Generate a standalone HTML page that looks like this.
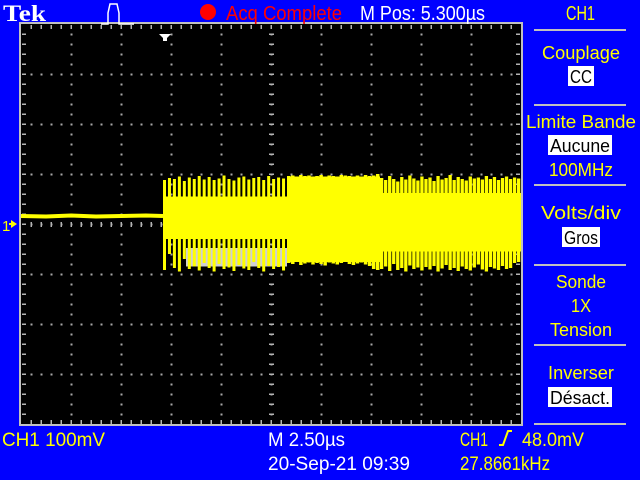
<!DOCTYPE html>
<html><head><meta charset="utf-8"><style>
html,body{margin:0;padding:0;background:#0000ff;}
svg{display:block;font-family:"Liberation Sans",sans-serif;}
</style></head><body>
<svg id="scope" width="640" height="480" viewBox="0 0 640 480" xmlns="http://www.w3.org/2000/svg">
<rect x="0" y="0" width="640" height="480" fill="#0000ff"/>
<rect x="21" y="24" width="500" height="400" fill="#000"/>
<g id="grid"></g>
<g id="trace"></g>
<rect x="20" y="23" width="502" height="402" fill="none" stroke="#c0c0c0" stroke-width="2"/>

<!-- header -->
<text x="3" y="21" font-family="Liberation Serif,serif" font-weight="bold" font-size="23" fill="#fff" textLength="43" lengthAdjust="spacingAndGlyphs">Tek</text>
<polyline points="101,24 108,24 108,13 110,4 117,4 119,13 119,24 134,24" fill="none" stroke="#fff" stroke-width="1.5"/>
<circle cx="208" cy="12" r="8" fill="#ff0000"/>
<text x="226" y="20" font-size="20" fill="#ff0000" textLength="116" lengthAdjust="spacingAndGlyphs">Acq Complete</text>
<text x="360" y="20" font-size="20" fill="#fff" textLength="125" lengthAdjust="spacingAndGlyphs">M Pos: 5.300µs</text>
<text x="566" y="20" font-size="20" fill="#ffff00" textLength="29" lengthAdjust="spacingAndGlyphs">CH1</text>
<path d="M159,34 h12 l-4,4 v3 h-4 v-3 z" fill="#fff"/>

<!-- channel marker -->
<text x="2" y="231" font-size="15" fill="#ffff00">1</text>
<path d="M11,220 l6,4 l-6,4 z M9,223 h4 v2 h-4 z" fill="#ffff00"/>
<path d="M516,196 l-5,5 l5,5 M512,201 h8" fill="none" stroke="#ffff00" stroke-width="1.5"/>

<!-- right menu -->
<g fill="#ffff00" font-size="18" text-anchor="middle">
<line x1="534" y1="30" x2="626" y2="30" stroke="#c0c0c0" stroke-width="2"/>
<text x="581" y="59" textLength="78" lengthAdjust="spacingAndGlyphs">Couplage</text>
<rect x="568" y="66" width="26" height="20" fill="#fff"/>
<text x="581" y="83" fill="#000" textLength="22" lengthAdjust="spacingAndGlyphs">CC</text>
<line x1="534" y1="105" x2="626" y2="105" stroke="#c0c0c0" stroke-width="2"/>
<text x="581" y="128" textLength="110" lengthAdjust="spacingAndGlyphs">Limite Bande</text>
<rect x="548" y="135" width="64" height="20" fill="#fff"/>
<text x="580" y="152" fill="#000" textLength="60" lengthAdjust="spacingAndGlyphs">Aucune</text>
<text x="581" y="176" textLength="64" lengthAdjust="spacingAndGlyphs">100MHz</text>
<line x1="534" y1="185" x2="626" y2="185" stroke="#c0c0c0" stroke-width="2"/>
<text x="581" y="219" textLength="80" lengthAdjust="spacingAndGlyphs">Volts/div</text>
<rect x="562" y="227" width="38" height="20" fill="#fff"/>
<text x="581" y="244" fill="#000" textLength="34" lengthAdjust="spacingAndGlyphs">Gros</text>
<line x1="534" y1="265" x2="626" y2="265" stroke="#c0c0c0" stroke-width="2"/>
<text x="581" y="288" textLength="50" lengthAdjust="spacingAndGlyphs">Sonde</text>
<text x="581" y="312" textLength="20" lengthAdjust="spacingAndGlyphs">1X</text>
<text x="581" y="336" textLength="62" lengthAdjust="spacingAndGlyphs">Tension</text>
<line x1="534" y1="345" x2="626" y2="345" stroke="#c0c0c0" stroke-width="2"/>
<text x="581" y="379" textLength="66" lengthAdjust="spacingAndGlyphs">Inverser</text>
<rect x="548" y="387" width="64" height="20" fill="#fff"/>
<text x="580" y="404" fill="#000" textLength="60" lengthAdjust="spacingAndGlyphs">Désact.</text>
<line x1="534" y1="424" x2="626" y2="424" stroke="#c0c0c0" stroke-width="2"/>
</g>

<!-- bottom status -->
<text x="2" y="446" font-size="19" fill="#ffff00" textLength="103" lengthAdjust="spacingAndGlyphs">CH1  100mV</text>
<text x="268" y="446" font-size="19" fill="#fff" textLength="77" lengthAdjust="spacingAndGlyphs">M 2.50µs</text>
<text x="268" y="470" font-size="19" fill="#fff" textLength="142" lengthAdjust="spacingAndGlyphs">20-Sep-21 09:39</text>
<text x="460" y="446" font-size="19" fill="#ffff00" textLength="28" lengthAdjust="spacingAndGlyphs">CH1</text>
<path d="M499,445 h4 l5,-14 h4" fill="none" stroke="#ffff00" stroke-width="2"/>
<text x="522" y="446" font-size="19" fill="#ffff00" textLength="62" lengthAdjust="spacingAndGlyphs">48.0mV</text>
<text x="460" y="470" font-size="19" fill="#ffff00" textLength="90" lengthAdjust="spacingAndGlyphs">27.8661kHz</text>
</svg>
<script>
// Data (time in divisions, voltage in mV; 100 mV/div)
const preT = [0, 0.5, 1.0, 1.5, 2.0, 2.5, 2.84];
const preV = [16, 15, 17, 15, 16, 17, 16];
const segStart = [2.84, 5.32, 7.18];
const segEnd = [5.32, 7.18, 10.0];
const segHi = [55, 95, 62];
const segLo = [-30, -76, -55];
const r1Hi = [88,92,90,95,86,93,90,96,89,94,88,91,97,90,87,93,95,89,92,94,88,96,90,93,91];
const r1Lo = [-92,-60,-88,-95,-70,-90,-85,-93,-78,-88,-95,-80,-90,-87,-94,-82,-89,-92,-76,-88,-95,-84,-90,-86,-93];
const r2Hi = [96,97,95,98,96,97,94,96,98,95,97,96,95,98,97,96,94,97,95,98,96,97,100];
const r2Lo = [-78,-80,-76,-82,-79,-77,-81,-78,-80,-83,-77,-79,-81,-78,-76,-80,-82,-79,-77,-81,-84,-90,-92];
const r3Hi = [92,88,96,90,85,94,89,97,91,87,95,90,93,86,96,89,92,98,88,94,90,87,95,91,93,89,96,90,94,88,92,95,90,93,91];
const r3Lo = [-90,-85,-94,-80,-92,-88,-95,-83,-90,-87,-93,-86,-91,-84,-95,-89,-82,-92,-88,-94,-85,-90,-93,-87,-81,-91,-95,-86,-89,-92,-84,-90,-88,-78,-76];

const NS = "http://www.w3.org/2000/svg";
function xs(t){ return 21 + t*50; }
function ys(mv){ return 224 - mv/2; }
function mk(tag, attrs, parent){
  const e = document.createElementNS(NS, tag);
  for (const k in attrs) e.setAttribute(k, attrs[k]);
  parent.appendChild(e); return e;
}
// Grid
const g = document.getElementById('grid');
for (let i=1;i<10;i++){
  for (let y=24+10; y<424; y+=10){
    const d = mk('rect',{x:xs(i)-0.5,y:y-0.5,width:2,height:2,fill:'#a8a8a8'},g);
    
    
  }
}
for (let j=1;j<8;j++){
  for (let x=21+10; x<521; x+=10){
    if ((x-21)%50===0) continue;
    const d = mk('rect',{x:x-0.5,y:24+j*50-0.5,width:2,height:2,fill:'#a8a8a8'},g);
    
    
  }
}
for (let x=31; x<521; x+=10){
  [[25,4],[420,4],[222,5]].forEach(([y,h])=>{
    const d = mk('rect',{x:x-0.5,y:y,width:1.5,height:h,fill:'#b4b4b4'},g);
    
    
  });
}
for (let y=34; y<424; y+=10){
  [[22,4],[516,4],[269,5]].forEach(([x,w])=>{
    const d = mk('rect',{x:x,y:y-0.5,width:w,height:1.5,fill:'#b4b4b4'},g);
    
    
  });
}
// Trace
const tr = document.getElementById('trace');
const gray = mk('rect',{x:xs(3.3),y:ys(-48),width:xs(5.32)-xs(3.3),height:ys(-85)-ys(-48),fill:'#d0d0d0'},tr);


const pl = mk('polyline',{points:preT.map((t,i)=>xs(t)+','+ys(preV[i])).join(' '),fill:'none',stroke:'#ffff00','stroke-width':4},tr);


for (let s=0;s<segStart.length;s++){
  const r = mk('rect',{x:xs(segStart[s]),y:ys(segHi[s]),width:xs(segEnd[s])-xs(segStart[s]),height:ys(segLo[s])-ys(segHi[s]),fill:'#ffff00'},tr);
  
  
}
function bars(hi, lo, t0, t1, w){
  const n = hi.length, step = (t1-t0)/n;
  for (let i=0;i<n;i++){
    const t = t0 + i*step;
    const b = mk('rect',{x:xs(t),y:ys(hi[i]),width:w,height:ys(lo[i])-ys(hi[i]),fill:'#ffff00'},tr);
    
    
  }
}
bars(r1Hi, r1Lo, 2.84, 5.32, 3);
bars(r2Hi, r2Lo, 5.32, 7.18, 3.5);
bars(r3Hi, r3Lo, 7.18, 10.0, 3.3);
</script>
</body></html>
